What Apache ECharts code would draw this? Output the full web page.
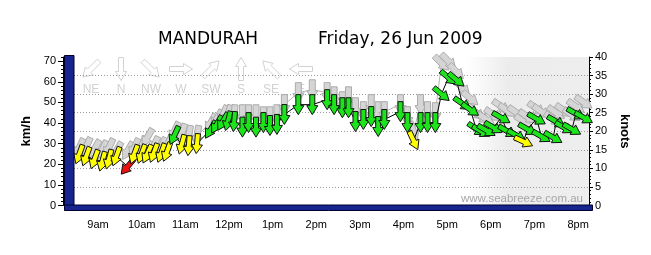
<!DOCTYPE html>
<html><head><meta charset="utf-8">
<script src="https://cdn.jsdelivr.net/npm/echarts@6/dist/echarts.min.js"></script>
<style>html,body{margin:0;padding:0;background:#fff}#c{width:651px;height:255px}</style>
</head><body><div id="c"></div>
<script>
// ---- data (time in decimal hours, speeds in km/h, direction wind comes FROM in degrees) ----
const times   = [8.57,8.73,8.92,9.10,9.25,9.42,9.68,9.83,10.00,10.13,10.28,10.45,10.58,10.75,10.92,11.08,11.27,11.58,11.72,11.86,11.98,12.12,12.31,12.45,12.62,12.79,12.94,13.10,13.27,13.59,13.91,14.25,14.41,14.60,14.74,14.90,15.08,15.26,15.42,15.56,15.93,16.09,16.23,16.39,16.55,16.73,16.87,17.03,17.21,17.35,17.53,17.67,17.78,17.90,18.06,18.24,18.38,18.59,18.75,18.84,19.05,19.16,19.43,19.50,19.68,19.86,19.95,20.13];
const avgKmh  = [24.8,23.8,22.4,21.4,22.4,23.8,18.9,24.8,25.0,25.0,25.5,25.5,26.0,34.0,29.6,29.0,30.0,36.8,39.3,40.7,41.0,40.7,38.0,40.2,38.0,40.2,38.8,39.3,44.1,48.9,48.9,51.3,48.9,47.4,47.4,40.7,41.7,43.1,38.3,41.7,45.5,40.2,31.5,40.2,40.2,40.2,54.0,62.0,61.0,49.4,46.5,37.0,36.0,36.4,37.8,42.6,36.0,34.0,31.0,37.0,42.0,33.5,33.0,40.7,37.8,37.0,44.5,42.6];
const gustKmh = [28.0,28.5,27.5,27.0,28.0,26.5,26.5,28.0,29.0,33.0,29.0,28.5,29.0,36.0,35.0,34.0,34.0,40.0,42.0,44.0,44.0,44.0,44.0,44.0,44.0,43.0,43.0,44.0,48.9,54.7,56.1,54.7,52.7,50.3,52.7,47.4,45.5,48.9,45.5,45.5,48.9,43.1,36.0,48.9,45.5,45.0,69.0,70.0,65.0,57.0,52.0,45.0,43.0,41.7,44.0,48.0,46.0,45.0,40.7,43.0,47.0,45.5,42.0,45.0,46.0,44.0,48.0,50.0];
const avgDir  = [20,20,20,15,15,20,40,20,20,25,20,20,20,25,15,5,5,30,30,30,15,5,0,0,0,0,0,0,0,0,0,0,0,0,0,0,0,0,0,0,0,0,335,0,0,0,310,310,310,305,305,305,300,300,300,300,300,300,295,300,300,300,300,300,300,300,300,300];
const gustDir = [25,25,30,25,25,30,30,25,25,30,25,25,25,25,20,10,10,30,30,25,15,5,0,0,0,0,0,0,0,0,0,0,0,0,0,0,0,0,0,0,0,0,340,0,0,0,315,315,315,315,310,310,305,305,305,305,305,305,305,305,305,305,305,305,305,305,305,305];

const hourValues = [9,10,11,12,13,14,15,16,17,18,19,20];
const hourLabels = ['9am','10am','11am','12pm','1pm','2pm','3pm','4pm','5pm','6pm','7pm','8pm'];
const halfHourTicks = [8.5,9,9.5,10,10.5,11,11.5,12,12.5,13,13.5,14,14.5,15,15.5,16,16.5,17,17.5,18,18.5,19,19.5,20];
const kmhTicks = [0,10,20,30,40,50,60,70];
const compassLabels = ['NE','N','NW','W','SW','S','SE','E'];
const compassFrom = [45,0,315,270,225,180,135,90];
const nightStart = 17.45, nightEnd = 20.25;
// speed classes (knots) -> colour
const classMaxKnots = [11, 17.5, 999];
const classColors = ['#ee1111', '#ffff00', '#1be41b'];

function arrowPoints(cx, cy, bearingDeg, L, sw, hw, hl) {
  const b = bearingDeg * Math.PI / 180;
  const ux = Math.sin(b), uy = -Math.cos(b);
  const nx = -uy, ny = ux;
  const tx = cx - ux * L / 2, ty = cy - uy * L / 2;
  const hx = cx + ux * L / 2, hy = cy + uy * L / 2;
  const bx = hx - ux * hl, by = hy - uy * hl;
  return [
    [tx + nx * sw / 2, ty + ny * sw / 2],
    [bx + nx * sw / 2, by + ny * sw / 2],
    [bx + nx * hw / 2, by + ny * hw / 2],
    [hx, hy],
    [bx - nx * hw / 2, by - ny * hw / 2],
    [bx - nx * sw / 2, by - ny * sw / 2],
    [tx - nx * sw / 2, ty - ny * sw / 2]
  ];
}
function speedColor(kmh) {
  const kn = kmh / 1.852;
  for (let i = 0; i < classMaxKnots.length; i++) if (kn < classMaxKnots[i]) return classColors[i];
  return classColors[classColors.length - 1];
}
function arrowSeries(vals, dirs, z, sw, styleFn) {
  return {
    type: 'custom', z: z, silent: true, clip: false, xAxisIndex: 0, yAxisIndex: 0,
    data: times.map((t, i) => [t, vals[i], dirs[i]]),
    encode: { x: 0, y: 1 },
    renderItem: function (params, api) {
      const p = api.coord([api.value(0), api.value(1)]);
      return {
        type: 'polygon',
        shape: { points: arrowPoints(p[0], p[1], (api.value(2) + 180) % 360, 20, sw, 11, 9) },
        style: styleFn(api.value(1))
      };
    }
  };
}

const legendEls = [];
compassLabels.forEach((lab, i) => {
  const cx = 91 + 30 * i, cy = 69;
  legendEls.push({ type: 'polygon', z: 1, silent: true,
    shape: { points: arrowPoints(cx, cy, (compassFrom[i] + 180) % 360, 23, 5, 11, 9) },
    style: { fill: '#ffffff', stroke: '#d2d2d2', lineWidth: 1 } });
  legendEls.push({ type: 'text', z: 1, silent: true, x: cx, y: 90,
    style: { text: lab, fill: '#d2d2d2', font: '12px "Liberation Sans", Arial, sans-serif',
      align: 'center', verticalAlign: 'middle', textAlign: 'center', textVerticalAlign: 'middle' } });
});

const chart = echarts.init(document.getElementById('c'), null, { renderer: 'canvas' });
const axisFont = { fontFamily: '"Liberation Sans", Arial, sans-serif', fontSize: 11, color: '#000' };
chart.setOption({
  animation: false,
  backgroundColor: '#fff',
  title: [
    { text: 'MANDURAH', left: 158, top: 31, padding: 0,
      textStyle: { fontFamily: '"DejaVu Sans", Verdana, sans-serif', fontSize: 17, fontWeight: 'normal', color: '#000' } },
    { text: 'Friday, 26 Jun 2009', left: 318, top: 31, padding: 0,
      textStyle: { fontFamily: '"DejaVu Sans", Verdana, sans-serif', fontSize: 17, fontWeight: 'normal', color: '#000' } }
  ],
  grid: { left: 74, right: 62, top: 57, bottom: 49.5, containLabel: false, outerBoundsMode: 'none' },
  xAxis: {
    type: 'value', min: 8.45, max: 20.25, offset: 5, z: 1,
    axisLine: { show: false },
    axisTick: { show: true, customValues: halfHourTicks, length: 4, lineStyle: { color: '#000', width: 1 } },
    axisLabel: Object.assign({ customValues: hourValues, margin: 9,
      formatter: v => hourLabels[hourValues.indexOf(Math.round(v))] || '' }, axisFont),
    splitLine: { show: false }, minorTick: { show: false }
  },
  yAxis: [
    { type: 'value', position: 'left', min: 0, max: 72, interval: 2, offset: 11, z: 1,
      name: 'km/h', nameLocation: 'middle', nameGap: 25, nameRotate: 90,
      nameTextStyle: { fontFamily: '"Liberation Sans", Arial, sans-serif', fontSize: 13, fontWeight: 'bold', color: '#000' },
      axisLine: { show: true, lineStyle: { color: '#000', width: 1 } },
      axisTick: { show: true, length: 2, lineStyle: { color: '#000' } },
      axisLabel: Object.assign({ customValues: kmhTicks, margin: 7 }, axisFont),
      splitLine: { show: false } },
    { type: 'value', position: 'right', min: 0, max: 40, interval: 5, offset: 0, z: 1,
      name: 'knots', nameLocation: 'middle', nameGap: 23, nameRotate: -90,
      nameTextStyle: { fontFamily: '"Liberation Sans", Arial, sans-serif', fontSize: 13, fontWeight: 'bold', color: '#000' },
      axisLine: { show: true, lineStyle: { color: '#000', width: 1 } },
      axisTick: { show: true, length: 4, lineStyle: { color: '#000' } },
      minorTick: { show: true, splitNumber: 5, length: 2, lineStyle: { color: '#000' } },
      axisLabel: Object.assign({ margin: 6 }, axisFont),
      splitLine: { show: true, showMinLine: false, showMaxLine: false, lineStyle: { color: '#9a9a9a', type: [1, 2], width: 1 } } },
    { type: 'value', position: 'left', min: 0, max: 72, offset: 11, z: 1,
      axisLine: { show: false }, axisLabel: { show: false }, splitLine: { show: false },
      axisTick: { show: true, customValues: kmhTicks, length: 5, lineStyle: { color: '#000' } } }
  ],
  graphic: legendEls.concat([
    { type: 'rect', z: 20, silent: true, shape: { x: 64.5, y: 55.5, width: 9.5, height: 154.5 },
      style: { fill: '#17238f', stroke: '#00002a', lineWidth: 1 } },
    { type: 'rect', z: 20, silent: true, shape: { x: 64.5, y: 205, width: 528, height: 5.5 },
      style: { fill: '#17238f', stroke: '#00002a', lineWidth: 1 } },
    { type: 'text', z: 2, silent: true, x: 583, y: 199,
      style: { text: 'www.seabreeze.com.au', fill: '#a6a6a6', font: '11.5px "Liberation Sans", Arial, sans-serif',
        align: 'right', verticalAlign: 'middle', textAlign: 'right', textVerticalAlign: 'middle' } }
  ]),
  series: [
    { type: 'custom', z: 0, silent: true, xAxisIndex: 0, yAxisIndex: 0,
      data: [[nightStart, nightEnd]], encode: { x: [0, 1] },
      renderItem: function (params, api) {
        const p0 = api.coord([api.value(0), 72]);
        const p1 = api.coord([api.value(1), 0]);
        return { type: 'rect', shape: { x: p0[0], y: p0[1], width: p1[0] - p0[0], height: p1[1] - p0[1] },
          style: { fill: new echarts.graphic.LinearGradient(0, 0, 1, 0, [
            { offset: 0, color: 'rgba(236,236,236,0)' }, { offset: 0.33, color: '#ececec' }, { offset: 1, color: '#eeeeee' }]) } };
      } },
    { type: 'line', z: 3, silent: true, showSymbol: false, symbol: 'none', xAxisIndex: 0, yAxisIndex: 0,
      data: times.map((t, i) => [t, gustKmh[i]]), lineStyle: { color: '#b4b4b4', width: 1 } },
    arrowSeries(gustKmh, gustDir, 4, 6, () => ({ fill: '#d5d5d5', stroke: '#ababab', lineWidth: 1 })),
    { type: 'line', z: 5, silent: true, showSymbol: false, symbol: 'none', xAxisIndex: 0, yAxisIndex: 0,
      data: times.map((t, i) => [t, avgKmh[i]]), lineStyle: { color: '#000', width: 1 } },
    arrowSeries(avgKmh, avgDir, 6, 5, v => ({ fill: speedColor(v), stroke: '#111', lineWidth: 1 }))
  ]
});
</script></body></html>
